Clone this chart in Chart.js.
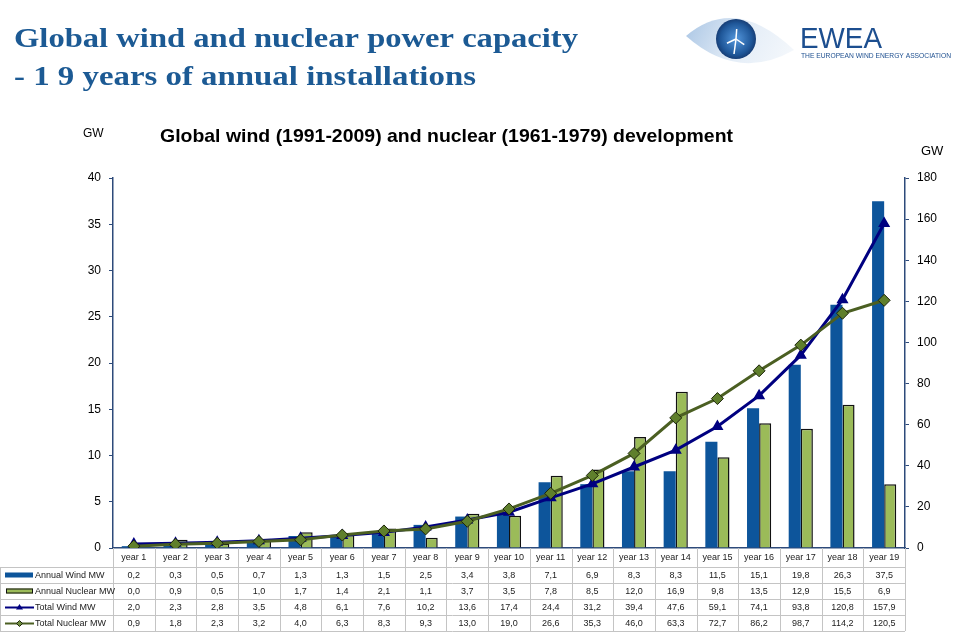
<!DOCTYPE html>
<html>
<head>
<meta charset="utf-8">
<script src="https://cdn.jsdelivr.net/npm/chart.js@4"></script>
<style>
	html, body {margin: 0; padding: 0; background: #fff;}
	#wrap {position: relative; width: 960px; height: 632px;}
</style>
</head>
<body>
<div id="wrap"><canvas id="chart" width="960" height="632"></canvas></div>
<script>
// Values (GW), comma decimals in the table
const years = ['year 1', 'year 2', 'year 3', 'year 4', 'year 5', 'year 6', 'year 7', 'year 8', 'year 9', 'year 10',
	'year 11', 'year 12', 'year 13', 'year 14', 'year 15', 'year 16', 'year 17', 'year 18', 'year 19'];
const annualWind = [0.2, 0.3, 0.5, 0.7, 1.3, 1.3, 1.5, 2.5, 3.4, 3.8, 7.1, 6.9, 8.3, 8.3, 11.5, 15.1, 19.8, 26.3, 37.5];
const annualNuclear = [0.0, 0.9, 0.5, 1.0, 1.7, 1.4, 2.1, 1.1, 3.7, 3.5, 7.8, 8.5, 12.0, 16.9, 9.8, 13.5, 12.9, 15.5, 6.9];
const totalWind = [2.0, 2.3, 2.8, 3.5, 4.8, 6.1, 7.6, 10.2, 13.6, 17.4, 24.4, 31.2, 39.4, 47.6, 59.1, 74.1, 93.8, 120.8, 157.9];
const totalNuclear = [0.9, 1.8, 2.3, 3.2, 4.0, 6.3, 8.3, 9.3, 13.0, 19.0, 26.6, 35.3, 46.0, 63.3, 72.7, 86.2, 98.7, 114.2, 120.5];

const WIND_BLUE = '#0D559B';
const NUC_GREEN = '#9BBB59';
const TOTAL_WIND = '#000080';
const TOTAL_NUC = '#4B5F22';
const AXIS = '#2D4A7A';

// draw text squeezed/stretched to a given width
function fitText(ctx, text, x, y, width) {
	const w = ctx.measureText(text).width;
	ctx.save();
	ctx.translate(x, y);
	ctx.scale(width / w, 1);
	ctx.fillText(text, 0, 0);
	ctx.restore();
}

function fmt(v) {
	return v.toFixed(1).replace('.', ',');
}

function drawLogo(ctx) {
	// eye
	ctx.save();
	ctx.beginPath();
	ctx.moveTo(686, 36);
	ctx.quadraticCurveTo(735, -6, 794, 50);
	ctx.quadraticCurveTo(738, 82, 686, 36);
	const g = ctx.createLinearGradient(688, 14, 792, 70);
	g.addColorStop(0, '#a9c5e4');
	g.addColorStop(0.5, '#e4edf7');
	g.addColorStop(1, '#f6f9fc');
	ctx.fillStyle = g;
	ctx.fill();
	const iris = ctx.createRadialGradient(736, 39, 3, 736, 39, 21);
	iris.addColorStop(0, '#4a8bd0');
	iris.addColorStop(0.7, '#1f5799');
	iris.addColorStop(1, '#15386e');
	ctx.beginPath();
	ctx.arc(736, 39, 20, 0, Math.PI * 2);
	ctx.fillStyle = iris;
	ctx.fill();
	ctx.strokeStyle = '#ffffff';
	ctx.lineWidth = 1.5;
	for (const a of [-1.5, 0.6, 2.7]) {
		ctx.beginPath();
		ctx.moveTo(736, 39);
		ctx.lineTo(736 + Math.cos(a) * 10, 39 + Math.sin(a) * 10);
		ctx.stroke();
	}
	ctx.beginPath();
	ctx.moveTo(736, 39);
	ctx.lineTo(734, 54);
	ctx.stroke();
	ctx.restore();

	ctx.fillStyle = '#1C4E8F';
	ctx.font = '30px "Liberation Sans Narrow", "Liberation Sans", Arial, sans-serif';
	ctx.textBaseline = 'alphabetic';
	fitText(ctx, 'EWEA', 800, 48, 82);
	ctx.font = '7px "Liberation Sans", Arial, sans-serif';
	fitText(ctx, 'THE EUROPEAN WIND ENERGY ASSOCIATION', 801, 58, 150);
}

const tablePlugin = {
	id: 'tablePlugin',
	afterDraw(chart) {
		const {ctx} = chart;
		const x = chart.scales.x;
		const n = years.length;
		const colW = x.getPixelForValue(1) - x.getPixelForValue(0);
		const tableLeft = x.getPixelForValue(0) - colW / 2;
		const tableRight = x.getPixelForValue(n - 1) + colW / 2;
		const top = chart.chartArea.bottom;
		const rowLines = [567, 583, 599, 615, 631];

		ctx.save();
		ctx.strokeStyle = '#c4c4c4';
		ctx.lineWidth = 1;
		// vertical dividers
		for (let i = 1; i <= n; i++) {
			const px = Math.round(tableLeft + i * colW) + 0.5;
			ctx.beginPath();
			ctx.moveTo(px, top);
			ctx.lineTo(px, rowLines[4]);
			ctx.stroke();
		}
		ctx.beginPath();
		ctx.moveTo(0.5, rowLines[0]);
		ctx.lineTo(0.5, rowLines[4]);
		ctx.moveTo(Math.round(tableLeft) + 0.5, top);
		ctx.lineTo(Math.round(tableLeft) + 0.5, rowLines[4]);
		ctx.stroke();
		for (const ry of rowLines) {
			ctx.beginPath();
			ctx.moveTo(0, ry + 0.5);
			ctx.lineTo(tableRight, ry + 0.5);
			ctx.stroke();
		}

		// year labels and values
		ctx.fillStyle = '#222';
		ctx.font = '9px "Liberation Sans", Arial, sans-serif';
		ctx.textAlign = 'center';
		ctx.textBaseline = 'middle';
		const rows = [annualWind, annualNuclear, totalWind, totalNuclear];
		for (let i = 0; i < n; i++) {
			const cx = x.getPixelForValue(i);
			ctx.fillText(years[i], cx, 558);
			rows.forEach((arr, r) => {
				ctx.fillText(fmt(arr[i]), cx, rowLines[r] + 8.5);
			});
		}

		// row labels with legend keys
		const names = ['Annual Wind MW', 'Annual Nuclear MW', 'Total Wind MW', 'Total Nuclear MW'];
		ctx.textAlign = 'left';
		names.forEach((name, r) => {
			const cy = rowLines[r] + 8.5;
			if (r === 0) {
				ctx.fillStyle = WIND_BLUE;
				ctx.fillRect(5, cy - 3, 28, 5);
			} else if (r === 1) {
				ctx.fillStyle = NUC_GREEN;
				ctx.fillRect(6, cy - 3, 27, 5);
				ctx.strokeStyle = '#111';
				ctx.lineWidth = 1;
				ctx.strokeRect(6.5, cy - 2.5, 26, 4);
			} else if (r === 2) {
				ctx.strokeStyle = TOTAL_WIND;
				ctx.lineWidth = 2;
				ctx.beginPath();
				ctx.moveTo(5, cy);
				ctx.lineTo(34, cy);
				ctx.stroke();
				ctx.fillStyle = TOTAL_WIND;
				ctx.beginPath();
				ctx.moveTo(19.5, cy - 3.5);
				ctx.lineTo(23, cy + 2);
				ctx.lineTo(16, cy + 2);
				ctx.fill();
			} else {
				ctx.strokeStyle = TOTAL_NUC;
				ctx.lineWidth = 2;
				ctx.beginPath();
				ctx.moveTo(5, cy);
				ctx.lineTo(34, cy);
				ctx.stroke();
				ctx.fillStyle = '#6E8B3D';
				ctx.strokeStyle = '#1d260b';
				ctx.lineWidth = 1;
				ctx.beginPath();
				ctx.moveTo(19.5, cy - 3);
				ctx.lineTo(22.5, cy);
				ctx.lineTo(19.5, cy + 3);
				ctx.lineTo(16.5, cy);
				ctx.closePath();
				ctx.fill();
				ctx.stroke();
			}
			ctx.fillStyle = '#222';
			ctx.fillText(name, 35, cy);
		});

		// headings
		ctx.fillStyle = '#1C5A94';
		ctx.textBaseline = 'alphabetic';
		ctx.font = 'bold 27px "Liberation Serif", "DejaVu Serif", serif';
		fitText(ctx, 'Global wind and nuclear power capacity', 14, 47, 564);
		fitText(ctx, '- 1 9 years of annual installations', 14, 85, 462);

		ctx.fillStyle = '#000';
		ctx.font = 'bold 19px "Liberation Sans", Arial, sans-serif';
		fitText(ctx, 'Global wind (1991-2009) and nuclear (1961-1979) development', 160, 142, 573);
		ctx.font = '12px "Liberation Sans", Arial, sans-serif';
		ctx.fillText('GW', 83, 137);
		ctx.font = '13px "Liberation Sans", Arial, sans-serif';
		ctx.fillText('GW', 921, 155);

		drawLogo(ctx);
		ctx.restore();
	},
};

new Chart(document.querySelector('#chart'), {
	type: 'bar',
	data: {
		labels: years,
		datasets: [
			{
				type: 'line',
				label: 'Total Nuclear MW',
				data: totalNuclear,
				yAxisID: 'y2',
				borderColor: TOTAL_NUC,
				borderWidth: 3,
				pointStyle: 'rectRot',
				pointRadius: 6,
				pointBackgroundColor: '#5F7F2C',
				pointBorderColor: '#1d260b',
				pointBorderWidth: 1,
				tension: 0,
				order: 0,
			},
			{
				type: 'line',
				label: 'Total Wind MW',
				data: totalWind,
				yAxisID: 'y2',
				borderColor: TOTAL_WIND,
				borderWidth: 3,
				pointStyle: 'triangle',
				pointRadius: 4,
				pointBackgroundColor: TOTAL_WIND,
				pointBorderColor: TOTAL_WIND,
				tension: 0,
				order: 1,
			},
			{
				label: 'Annual Wind MW',
				data: annualWind,
				yAxisID: 'y',
				backgroundColor: WIND_BLUE,
				borderWidth: 0,
				barPercentage: 1,
				categoryPercentage: 0.58,
				order: 2,
			},
			{
				label: 'Annual Nuclear MW',
				data: annualNuclear,
				yAxisID: 'y',
				backgroundColor: NUC_GREEN,
				borderColor: '#111',
				borderWidth: 1.5,
				barPercentage: 1,
				categoryPercentage: 0.58,
				order: 2,
			},
		],
	},
	options: {
		responsive: false,
		animation: false,
		layout: {padding: {top: 178, left: 0, right: 0, bottom: 0}},
		plugins: {legend: {display: false}, tooltip: {enabled: false}},
		scales: {
			x: {
				grid: {display: false},
				border: {display: true, color: AXIS, width: 1.5},
				ticks: {display: false},
				afterFit: (scale) => { scale.height = 84; },
			},
			y: {
				position: 'left',
				min: 0,
				max: 40,
				ticks: {stepSize: 5, color: '#000', font: {size: 12, family: '"Liberation Sans", Arial'}, padding: 8},
				grid: {display: true, drawOnChartArea: false, drawTicks: true, tickLength: 4, color: AXIS},
				border: {display: true, color: AXIS, width: 1.5},
				afterFit: (scale) => { scale.width = 113; },
			},
			y2: {
				position: 'right',
				min: 0,
				max: 180,
				ticks: {stepSize: 20, color: '#000', font: {size: 12, family: '"Liberation Sans", Arial'}, padding: 8},
				grid: {display: true, drawOnChartArea: false, drawTicks: true, tickLength: 4, color: AXIS},
				border: {display: true, color: AXIS, width: 1.5},
				afterFit: (scale) => { scale.width = 55; },
			},
		},
	},
	plugins: [tablePlugin],
});
</script>
</body>
</html>
